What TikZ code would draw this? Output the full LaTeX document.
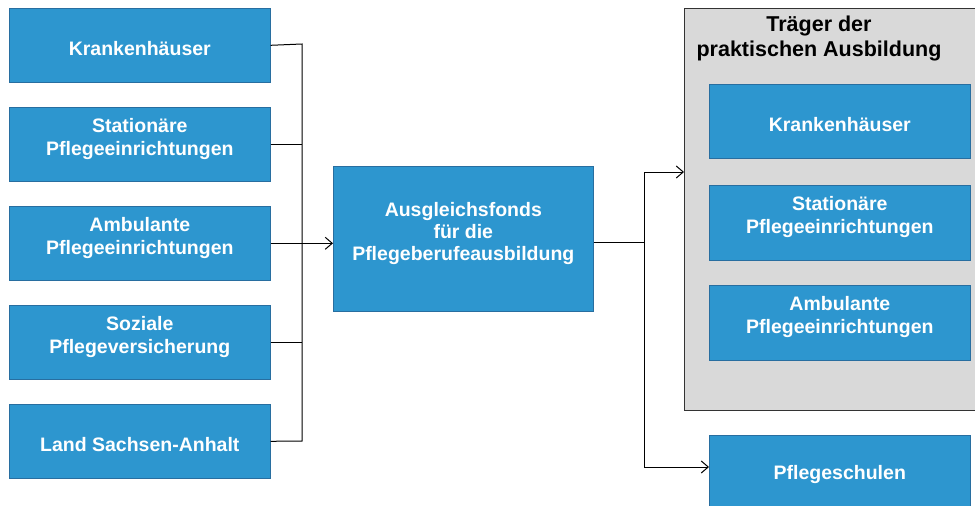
\documentclass[tikz,border=0pt]{standalone}
\usepackage{fontspec}
\setmainfont{Liberation Sans}
\usetikzlibrary{arrows.meta}
\definecolor{boxblue}{RGB}{45,150,207}
\definecolor{boxedge}{RGB}{40,110,160}
\definecolor{panelgray}{RGB}{217,217,217}
\tikzset{
  x=1pt,y=-1pt,
  bluebox/.style={fill=boxblue,draw=boxedge,line width=0.6pt,inner sep=0pt,anchor=north west},
  boxtext/.style={text=white,font=\bfseries\fontsize{19.5}{23}\selectfont,align=center,inner sep=0pt},
  twoline/.style={boxtext,yshift=5.5pt},
  oneline/.style={boxtext,yshift=-3pt},
  conn/.style={draw=black,line width=1pt},
  arr/.style={conn,-{Straight Barb[length=7pt,width=12pt,line width=1pt]}}
}
\begin{document}
\begin{tikzpicture}
\useasboundingbox (0,0) rectangle (975,506);
% gray panel
\node[fill=panelgray,draw=black!80,line width=1pt,anchor=north west,minimum width=295,minimum height=402,inner sep=0pt] (panel) at (684,8) {};
\node[font=\bfseries\fontsize{21.5}{25}\selectfont,align=center] (ptitle) at (819,38.5) {Träger der\\praktischen Ausbildung};
% left boxes
\node[bluebox,minimum width=261,minimum height=74] (k1) at (9,8) {};
\node[bluebox,minimum width=261,minimum height=74] (k2) at (9,107) {};
\node[bluebox,minimum width=261,minimum height=74] (k3) at (9,206) {};
\node[bluebox,minimum width=261,minimum height=74] (k4) at (9,305) {};
\node[bluebox,minimum width=261,minimum height=74] (k5) at (9,404) {};
\node[oneline] (k1t) at (k1.center) {Krankenhäuser};
\node[twoline] (k2t) at (k2.center) {Stationäre\\Pflegeeinrichtungen};
\node[twoline] (k3t) at (k3.center) {Ambulante\\Pflegeeinrichtungen};
\node[twoline] (k4t) at (k4.center) {Soziale\\Pflegeversicherung};
\node[oneline] (k5t) at (k5.center) {Land Sachsen-Anhalt};
% center
\node[bluebox,minimum width=260,minimum height=145] (fonds) at (333,166) {};
\node[boxtext,yshift=5.5pt,font=\bfseries\fontsize{19.5}{22}\selectfont] (fondst) at (fonds.center) {Ausgleichsfonds\\für die\\Pflegeberufeausbildung};
% right boxes
\node[bluebox,minimum width=261,minimum height=74] (r1) at (709,84) {};
\node[bluebox,minimum width=261,minimum height=75] (r2) at (709,185) {};
\node[bluebox,minimum width=261,minimum height=75] (r3) at (709,285) {};
\node[bluebox,minimum width=261,minimum height=76] (schule) at (709,435) {};
\node[oneline] (r1t) at (r1.center) {Krankenhäuser};
\node[twoline] (r2t) at (r2.center) {Stationäre\\Pflegeeinrichtungen};
\node[twoline] (r3t) at (r3.center) {Ambulante\\Pflegeeinrichtungen};
\node[boxtext] (schulet) at ([yshift=-1pt]schule.center) {Pflegeschulen};
% left bus
\coordinate (bt) at (302,44);
\coordinate (bb) at (302,441);
\draw[conn] (k1.east) -- (bt) -- (bb) -- (k5.east);
\draw[conn] (k2.east) -- (k2.east -| bt);
\draw[conn] (k4.east) -- (k4.east -| bt);
\draw[arr] (k3.east) -- (k3.east -| fonds.west);
% right bus
\coordinate (rb) at (644,242);
\coordinate (rt) at (644,172);
\coordinate (rbot) at (644,467);
\draw[conn] (fonds.east |- rb) -- (rb);
\draw[arr] (rb) -- (rt) -- (panel.west |- rt);
\draw[arr] (rb) -- (rbot) -- (schule.west |- rbot);
\end{tikzpicture}
\end{document}
